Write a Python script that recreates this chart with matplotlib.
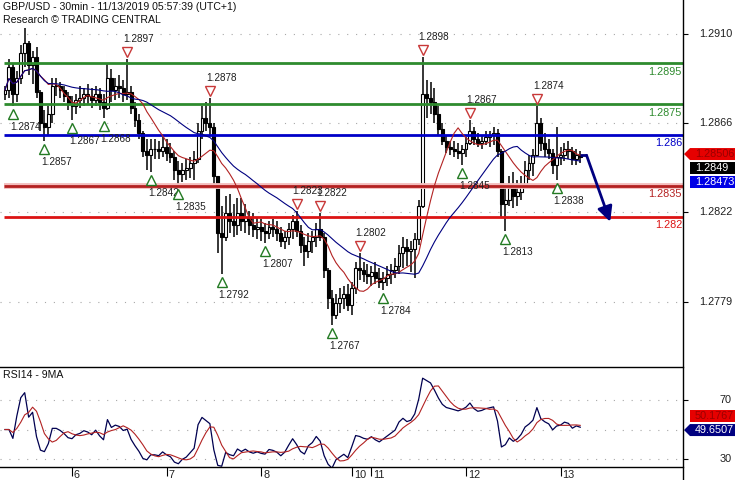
import numpy as np
import pandas as pd
import matplotlib
matplotlib.use('Agg')
import matplotlib.pyplot as plt
from matplotlib.patches import Polygon
from matplotlib.transforms import offset_copy

plt.rcParams['font.family'] = ['Liberation Sans', 'DejaVu Sans']

# ---------------- data (hourly bars) ----------------
high = [1.2884, 1.2897, 1.2895, 1.2891, 1.2904, 1.2912, 1.2906, 1.2901, 1.2903, 1.2882,
        1.2872, 1.2874, 1.2888, 1.2888, 1.2886, 1.2884, 1.2881, 1.2879, 1.2880, 1.2884,
        1.2883, 1.2885, 1.2883, 1.2884, 1.2883, 1.2880, 1.2895, 1.2892, 1.2888, 1.2889,
        1.2887, 1.2897, 1.2884, 1.2876, 1.2870, 1.2862, 1.2858, 1.2858, 1.2858, 1.2857,
        1.2859, 1.2858, 1.2856, 1.2852, 1.2847, 1.2846, 1.2848, 1.2849, 1.2852, 1.2866,
        1.2874, 1.2876, 1.2878, 1.2866, 1.2840, 1.2825, 1.2830, 1.2831, 1.2826, 1.2829,
        1.2829, 1.2826, 1.2823, 1.2822, 1.2820, 1.2819, 1.2817, 1.2818, 1.2819, 1.2818,
        1.2815, 1.2813, 1.2817, 1.2821, 1.2823, 1.2816, 1.2810, 1.2812, 1.2813, 1.2817,
        1.2822, 1.2812, 1.2795, 1.2784, 1.2782, 1.2785, 1.2786, 1.2787, 1.2788, 1.2798,
        1.2802, 1.2798, 1.2797, 1.2796, 1.2798, 1.2795, 1.2793, 1.2796, 1.2797, 1.2800,
        1.2806, 1.2810, 1.2809, 1.2808, 1.2812, 1.2828, 1.2898, 1.2887, 1.2886, 1.2883,
        1.2874, 1.2866, 1.2860, 1.2857, 1.2857, 1.2856, 1.2855, 1.2859, 1.2867, 1.2864,
        1.2861, 1.2860, 1.2862, 1.2862, 1.2864, 1.2863, 1.2853, 1.2836, 1.2840, 1.2842,
        1.2838, 1.2840, 1.2847, 1.2850, 1.2853, 1.2874, 1.2868, 1.2861, 1.2858, 1.2853,
        1.2864, 1.2854, 1.2856, 1.2857, 1.2854, 1.2853, 1.2852]
low = [1.2877, 1.2878, 1.2874, 1.2876, 1.2885, 1.2893, 1.2889, 1.2885, 1.2878, 1.2862,
       1.2857, 1.2860, 1.2866, 1.2879, 1.2878, 1.2876, 1.2872, 1.2867, 1.2870, 1.2873,
       1.2874, 1.2875, 1.2873, 1.2874, 1.2872, 1.2868, 1.2872, 1.2876, 1.2877, 1.2878,
       1.2876, 1.2877, 1.2870, 1.2864, 1.2858, 1.2849, 1.2843, 1.2842, 1.2848, 1.2848,
       1.2849, 1.2847, 1.2846, 1.2838, 1.2835, 1.2837, 1.2838, 1.2839, 1.2838, 1.2846,
       1.2858, 1.2862, 1.2860, 1.2834, 1.2802, 1.2792, 1.2808, 1.2812, 1.2810, 1.2811,
       1.2813, 1.2812, 1.2811, 1.2810, 1.2809, 1.2808, 1.2807, 1.2809, 1.2810, 1.2808,
       1.2805, 1.2804, 1.2806, 1.2809, 1.2810, 1.2802, 1.2796, 1.2800, 1.2802, 1.2805,
       1.2808, 1.2790, 1.2775, 1.2767, 1.2770, 1.2773, 1.2775, 1.2774, 1.2772, 1.2782,
       1.2789, 1.2788, 1.2787, 1.2786, 1.2787, 1.2785, 1.2784, 1.2786, 1.2787, 1.2790,
       1.2792, 1.2795, 1.2796, 1.2793, 1.2790, 1.2806, 1.2824, 1.2868, 1.2870, 1.2866,
       1.2860, 1.2855, 1.2851, 1.2850, 1.2849, 1.2848, 1.2845, 1.2849, 1.2855, 1.2855,
       1.2854, 1.2853, 1.2855, 1.2854, 1.2855, 1.2849, 1.2820, 1.2813, 1.2825, 1.2824,
       1.2825, 1.2828, 1.2834, 1.2838, 1.2840, 1.2850, 1.2852, 1.2849, 1.2848, 1.2841,
       1.2838, 1.2845, 1.2847, 1.2848, 1.2845, 1.2845, 1.2846]
close = [1.2882, 1.2893, 1.2880, 1.2888, 1.2900, 1.2905, 1.2894, 1.2898, 1.2881, 1.2866,
         1.2864, 1.2870, 1.2884, 1.2884, 1.2882, 1.2879, 1.2875, 1.2874, 1.2877, 1.2878,
         1.2880, 1.2879, 1.2877, 1.2880, 1.2876, 1.2873, 1.2888, 1.2882, 1.2884, 1.2883,
         1.2880, 1.2881, 1.2873, 1.2867, 1.2861, 1.2852, 1.2850, 1.2853, 1.2853, 1.2852,
         1.2854, 1.2851, 1.2849, 1.2843, 1.2841, 1.2843, 1.2844, 1.2846, 1.2848, 1.2862,
         1.2868, 1.2866, 1.2864, 1.2840, 1.2812, 1.2810, 1.2822, 1.2818, 1.2816, 1.2822,
         1.2818, 1.2820, 1.2816, 1.2814, 1.2815, 1.2813, 1.2812, 1.2815, 1.2814, 1.2812,
         1.2808, 1.2810, 1.2814, 1.2818, 1.2813, 1.2806, 1.2803, 1.2808, 1.2810, 1.2814,
         1.2810, 1.2794, 1.2780, 1.2772, 1.2778, 1.2780, 1.2782, 1.2777, 1.2785, 1.2795,
         1.2794, 1.2792, 1.2791, 1.2793, 1.2790, 1.2788, 1.2790, 1.2792, 1.2794, 1.2796,
         1.2802, 1.2805, 1.2803, 1.2804, 1.2809, 1.2825, 1.2880, 1.2878, 1.2876, 1.2870,
         1.2863, 1.2857, 1.2854, 1.2853, 1.2852, 1.2851, 1.2853, 1.2856, 1.2862, 1.2858,
         1.2856, 1.2857, 1.2859, 1.2860, 1.2861, 1.2852, 1.2826, 1.2828, 1.2834, 1.2830,
         1.2832, 1.2836, 1.2843, 1.2846, 1.2850, 1.2866, 1.2856, 1.2853, 1.2851, 1.2845,
         1.2849, 1.2850, 1.2853, 1.2852, 1.2848, 1.2850, 1.2849]
first_open = 1.2880

day_labels = ['6', '7', '8', '10', '11', '12', '13']
day_start_idx = [17, 41, 65, 88, 93, 117, 141]

levels = [1.2895, 1.2875, 1.286, 1.2835, 1.282]
level_labels = ['1.2895', '1.2875', '1.286', '1.2835', '1.282']
level_colors = ['#2E8B2E', '#2E8B2E', '#0000C8', '#B42020', '#DC1414']
level_halo = [None, None, None, '#F4BDBD', None]

swing_high_idx = [31, 52, 74, 80, 90, 106, 118, 135]
swing_high_val = [1.2897, 1.2878, 1.2823, 1.2822, 1.2802, 1.2898, 1.2867, 1.2874]
swing_low_idx = [2, 10, 17, 25, 37, 44, 55, 66, 83, 96, 116, 127, 140]
swing_low_val = [1.2874, 1.2857, 1.2867, 1.2868, 1.2842, 1.2835, 1.2792, 1.2807,
                 1.2767, 1.2784, 1.2845, 1.2813, 1.2838]

price_ticks = [1.29093, 1.28656, 1.28222, 1.27781]
price_tick_labels = ['1.2910', '1.2866', '1.2822', '1.2779']
rsi_ticks = [70, 30]
rsi_tick_labels = ['70', '30']
rsi_grid = [70, 50, 30]

ma_fast_last, last_price, ma_slow_last = 1.28506, 1.2849, 1.28473
rsi_last, rsi_ma_last = 49.6507, 50.1767

forecast_x = [146, 147.6, 153.6]
forecast_y = [1.2850, 1.2850, 1.28175]

title_lines = ['GBP/USD - 30min - 11/13/2019 05:57:39 (UTC+1)', 'Research \u00a9 TRADING CENTRAL']

# ---------------- derived series ----------------
n = len(close)
idx = np.arange(n)
opens = np.array([first_open] + close[:-1])
cl = np.array(close)
s = pd.Series(close)
ma_fast = s.rolling(10, min_periods=1).mean()
ma_slow = s.rolling(25, min_periods=1).mean()
delta = s.diff().fillna(0)
gain = delta.clip(lower=0).ewm(alpha=1 / 14, adjust=True).mean()
loss = (-delta.clip(upper=0)).ewm(alpha=1 / 14, adjust=True).mean()
rsi = (100 - 100 / (1 + gain / loss.replace(0, np.nan))).fillna(50)
rsi_ma = rsi.rolling(5, min_periods=1).mean()

# ---------------- figure ----------------
W, H = 735, 480
fig = plt.figure(figsize=(W / 100, H / 100), dpi=100)
fig.patch.set_facecolor('white')
ax = fig.add_axes([0, 113 / H, 683 / W, 367 / H])
rax = fig.add_axes([0, 13 / H, 683 / W, 100 / H])
ov = fig.add_axes([0, 0, 1, 1], zorder=10)
ov.set_xlim(0, W)
ov.set_ylim(H, 0)
ov.axis('off')
ov.patch.set_alpha(0)

xlim = (-5 / 3.94, 678 / 3.94)
for a in (ax, rax):
    a.set_xlim(*xlim)
    for sp in a.spines.values():
        sp.set_visible(False)
    a.set_facecolor('white')
ax.set_ylim(1.27465, 1.29259)
rax.set_ylim(24.6, 92.4)

FS = 7.8
LFS = 7.2
grid_kw = dict(color='#A8A8A8', lw=0.8, ls=(0, (1, 7)), zorder=0)

# grid + ticks main
for t in price_ticks:
    ax.axhline(t, **grid_kw)
ax.yaxis.tick_right()
ax.set_yticks(price_ticks)
ax.set_yticklabels([])
ax.tick_params(axis='y', length=3.6, width=0.8, direction='out', color='black')
ax.set_xticks([])
for t, lab in zip(price_ticks, price_tick_labels):
    ax.text(732 / 683, t, lab, transform=ax.get_yaxis_transform(), ha='right',
            va='center', fontsize=FS, color='#202020', clip_on=False)

# candles
up = cl >= opens
ax.vlines(idx, low, high, color='black', lw=1.1, zorder=2)
body = np.where(np.abs(cl - opens) < 0.00003, 0.00003, cl - opens)
ax.bar(idx, body, bottom=opens, width=0.75, color=np.where(up, 'white', 'black'),
       edgecolor='black', linewidth=0.8, zorder=2.5)

# levels
for lv, lab, col, halo in zip(levels, level_labels, level_colors, level_halo):
    if halo:
        ax.hlines(lv, -0.3, xlim[1], color=halo, lw=4.2, zorder=3)
    ax.hlines(lv, -0.3, xlim[1], color=col, lw=2.0, zorder=3.1)
    tr = offset_copy(ax.get_yaxis_transform(), fig=fig, x=0, y=-8.5, units='dots')
    ax.text(682 / 683, lv, lab, transform=tr, ha='right', va='center',
            fontsize=FS, color=col, zorder=5)

# moving averages
ax.plot(idx, ma_fast, color='#B22222', lw=0.8, zorder=4)
ax.plot(idx, ma_slow, color='#000080', lw=0.8, zorder=4)

# swing markers
tr_hm = offset_copy(ax.transData, fig=fig, x=0, y=7, units='dots')
tr_hl = offset_copy(ax.transData, fig=fig, x=-4, y=20, units='dots')
tr_lm = offset_copy(ax.transData, fig=fig, x=0, y=-8, units='dots')
tr_ll = offset_copy(ax.transData, fig=fig, x=-3, y=-21, units='dots')
for i, v in zip(swing_high_idx, swing_high_val):
    ax.plot(i, v, marker='v', ms=6.5, mfc='white', mec='#C83838', mew=1.0,
            transform=tr_hm, zorder=6, clip_on=False)
    ax.text(i, v, f'{v:.4f}', transform=tr_hl, ha='left', va='center',
            fontsize=LFS, color='#202020', zorder=6)
for i, v in zip(swing_low_idx, swing_low_val):
    ax.plot(i, v, marker='^', ms=6.5, mfc='white', mec='#237A23', mew=1.0,
            transform=tr_lm, zorder=6, clip_on=False)
    ax.text(i, v, f'{v:.4f}', transform=tr_ll, ha='left', va='center',
            fontsize=LFS, color='#202020', zorder=6)

# forecast arrow
ax.plot(forecast_x[:2], forecast_y[:2], color='#000080', lw=2, zorder=6,
        solid_capstyle='butt', clip_on=False)
ax.annotate('', xy=(forecast_x[2], forecast_y[2]), xytext=(forecast_x[1], forecast_y[1]),
            arrowprops=dict(arrowstyle='-|>,head_length=0.9,head_width=0.45',
                            color='#000080', lw=2, shrinkA=0, shrinkB=0), zorder=6)

# RSI panel
for t in rsi_grid:
    rax.axhline(t, **grid_kw)
rax.yaxis.tick_right()
rax.set_yticks(rsi_ticks)
rax.set_yticklabels([])
rax.tick_params(axis='y', length=3.6, width=0.8, direction='out')
for t, lab in zip(rsi_ticks, rsi_tick_labels):
    rax.text(732 / 683, t, lab, transform=rax.get_yaxis_transform(), ha='right',
             va='center', fontsize=FS, color='#202020', clip_on=False)
rax.plot(idx, rsi, color='#000050', lw=0.9, zorder=3)
rax.plot(idx, rsi_ma, color='#B22222', lw=0.8, zorder=4)
rax.set_xticks(day_start_idx)
rax.set_xticklabels([])
rax.tick_params(axis='x', length=6.5, width=0.8, direction='out')
tr_x = offset_copy(rax.get_xaxis_transform(), fig=fig, x=2, y=0, units='dots')
for i, lab in zip(day_start_idx, day_labels):
    rax.text(i, -0.08, lab, transform=tr_x, ha='left', va='center', fontsize=FS,
             color='#202020', clip_on=False)

# frame lines
ov.plot([683, 683], [0, H], color='black', lw=1.0)
ov.plot([0, 683], [367, 367], color='black', lw=1.0)
ov.plot([0, 683], [467, 467], color='black', lw=1.0)

# titles
ov.text(3, 7, title_lines[0], ha='left', va='center', fontsize=7.6, color='#101010')
ov.text(3, 20, title_lines[1], ha='left', va='center', fontsize=7.6, color='#101010')
ov.text(3, 375, 'RSI14 - 9MA', ha='left', va='center', fontsize=7.6, color='#101010')


def img_y(a, v):
    return H - a.transData.transform((0, v))[1]


def tag(y, text, bg, fg, arrow=False):
    if arrow:
        pts = [(684, y), (690, y - 6), (735, y - 6), (735, y + 6), (690, y + 6)]
    else:
        pts = [(690, y - 6), (735, y - 6), (735, y + 6), (690, y + 6)]
    ov.add_patch(Polygon(pts, closed=True, facecolor=bg, edgecolor='none'))
    ov.text(695, y, text, ha='left', va='center', fontsize=FS, color=fg)


y0 = img_y(ax, ma_fast_last)
tag(y0, f'{ma_fast_last:.5f}', '#E60000', '#9A0000', arrow=True)
tag(y0 + 14, f'{last_price:.4f}', 'black', 'white')
tag(y0 + 28, f'{ma_slow_last:.5f}', '#0000E6', 'white')
yr = img_y(rax, rsi_last)
tag(yr, f'{rsi_last:.4f}', '#000080', 'white', arrow=True)
tag(yr - 14, f'{rsi_ma_last:.4f}', '#E60000', '#9A0000')

fig.savefig('out.png', dpi=100)
